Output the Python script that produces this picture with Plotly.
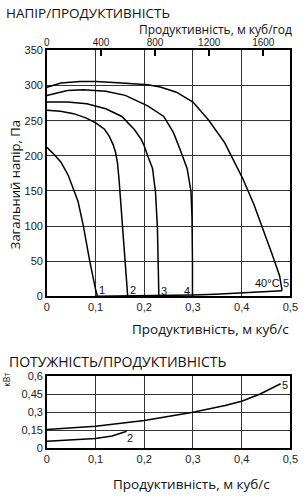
import plotly.graph_objects as go

W, H = 308, 500

# ---------- data: pressure vs flow (m3/s, Pa) ----------
c1_q = [0, 0.015, 0.029, 0.044, 0.056, 0.064, 0.075, 0.088, 0.1, 0.104]
c1_p = [212, 202, 191, 172, 150, 135, 100, 50, 10, 0]

c2_q = [0, 0.028, 0.055, 0.08, 0.101, 0.118, 0.128, 0.136, 0.141, 0.145, 0.148, 0.151, 0.154, 0.158, 0.161, 0.164, 0.166]
c2_p = [265, 263.5, 260, 254, 246.5, 238, 228, 216, 205, 190, 168, 140, 112, 85, 57, 30, 0]

c3_q = [0, 0.042, 0.082, 0.121, 0.154, 0.167, 0.18, 0.194, 0.2, 0.207, 0.213, 0.217, 0.22, 0.223, 0.227, 0.229, 0.23]
c3_p = [276.6, 276.6, 274, 267, 256, 247, 237, 223, 214, 200, 190, 182, 165, 149, 98, 40, 0]

c4_q = [0, 0.042, 0.075, 0.121, 0.161, 0.207, 0.24, 0.26, 0.273, 0.281, 0.288, 0.296, 0.298, 0.299, 0.299]
c4_p = [285.8, 292.8, 294, 292, 286, 271, 256, 233, 210, 195, 182, 149, 112, 50, 0]

c5_q = [0, 0.029, 0.068, 0.101, 0.154, 0.207, 0.233, 0.266, 0.3, 0.332, 0.365, 0.385, 0.402, 0.425, 0.445, 0.464, 0.478, 0.483]
c5_p = [297.5, 303.5, 305.8, 305.8, 303.5, 301, 298, 290.5, 276.6, 251, 218.7, 191, 168, 131, 94, 57, 29, 8]

sys_q = [0.1, 0.2, 0.3, 0.346, 0.4, 0.483]
sys_p = [0, 0.6, 1.9, 2.9, 4.5, 8]

# ---------- data: power vs flow (m3/s, kW) ----------
p5_q = [0, 0.1, 0.2, 0.3, 0.366, 0.4, 0.438, 0.48]
p5_w = [0.156, 0.183, 0.232, 0.30, 0.355, 0.39, 0.45, 0.535]

p2_q = [0, 0.1, 0.134, 0.164]
p2_w = [0.06, 0.082, 0.103, 0.142]

# ---------- tick labels ----------
q_ticks = [0, 0.1, 0.2, 0.3, 0.4, 0.5]
q_labels = ["0", "0,1", "0,2", "0,3", "0,4", "0,5"]
qh_ticks = [0, 400, 800, 1200, 1600]
qh_labels = ["0", "400", "800", "1200", "1600"]
p_ticks = [0, 50, 100, 150, 200, 250, 300, 350]
p_labels = ["0", "50", "100", "150", "200", "250", "300", "350"]
w_ticks = [0, 0.15, 0.3, 0.45, 0.6]
w_labels = ["0", "0,15", "0,3", "0,45", "0,6"]

TICKFONT = dict(family="Liberation Sans, Arial, sans-serif", size=11, color="#222")
TITLEFONT = "Open Sans, Noto Sans, sans-serif"
LINE = dict(color="black", width=1.5)

def px(x):
    return x / W

def py(y):
    return 1 - y / H

fig = go.Figure()

for q, p in [(c1_q, c1_p), (c2_q, c2_p), (c3_q, c3_p), (c4_q, c4_p), (c5_q, c5_p), (sys_q, sys_p)]:
    fig.add_trace(go.Scatter(x=q, y=p, mode="lines", line=LINE, xaxis="x", yaxis="y",
                             showlegend=False, hoverinfo="skip"))

# dummy trace for the top m3/h axis
fig.add_trace(go.Scatter(x=[0, 1800], y=[None, None], mode="lines", xaxis="x3", yaxis="y",
                         showlegend=False, hoverinfo="skip"))

for q, w in [(p5_q, p5_w), (p2_q, p2_w)]:
    fig.add_trace(go.Scatter(x=q, y=w, mode="lines", line=LINE, xaxis="x2", yaxis="y2",
                             showlegend=False, hoverinfo="skip"))

xdom = [px(45.5), px(298)]
grid = dict(showgrid=True, gridcolor="#333", gridwidth=1, zeroline=False,
            showline=True, linecolor="black", linewidth=1.5, mirror=True,
            ticks="", tickfont=TICKFONT)

fig.update_layout(
    width=W, height=H, margin=dict(l=0, r=0, t=0, b=0),
    paper_bgcolor="white", plot_bgcolor="white",
    xaxis=dict(domain=xdom, anchor="y", range=[0, 0.5], tickvals=q_ticks, ticktext=q_labels, **grid),
    yaxis=dict(domain=[py(297.5), py(45.5)], anchor="x", range=[0, 350], tickvals=p_ticks, ticktext=p_labels, **grid),
    xaxis3=dict(overlaying="x", side="top", anchor="y", range=[0, 1800], tickvals=qh_ticks, ticktext=qh_labels,
                showgrid=False, zeroline=False, showline=False, ticks="inside", ticklen=6, tickwidth=1.5,
                tickcolor="black", ticklabelstandoff=1,
                tickfont=dict(family="Liberation Sans, Arial, sans-serif", size=10, color="#222")),
    xaxis2=dict(domain=xdom, anchor="y2", range=[0, 0.5], tickvals=q_ticks, ticktext=q_labels, **grid),
    yaxis2=dict(domain=[py(453.3), py(379)], anchor="x2", range=[0, 0.6], tickvals=w_ticks, ticktext=w_labels, **grid),
)

ann = []
def text(t, x, y, size=13.5, xanchor="left", family=TITLEFONT, angle=0):
    ann.append(dict(text=t, x=px(x), y=py(y), xref="paper", yref="paper", showarrow=False,
                    xanchor=xanchor, yanchor="middle", textangle=angle, borderpad=0,
                    font=dict(family=family, size=size, color="#111")))

text("НАПІР/ПРОДУКТИВНІСТЬ", 2, 7.5, size=13.5)
text("Продуктивність, м куб/год", 301, 24, size=12, xanchor="right")
text("Продуктивність, м куб/с", 298, 331, size=13.5, xanchor="right")
text("Загальний напір, Па", 12, 183, size=13, xanchor="center", angle=-90)
text("ПОТУЖНІСТЬ/ПРОДУКТИВНІСТЬ", 5, 364.5, size=14)
text("Продуктивність, м куб/с", 278, 490, size=13.5, xanchor="right")
text("кВт", 4, 383, size=8.5, xanchor="center", angle=-90)

lab = "Liberation Sans, Arial, sans-serif"
text("1", 99, 291, size=11, family=lab)
text("2", 131, 291, size=11, family=lab)
text("3", 163, 292, size=11, family=lab)
text("4", 187, 292, size=11, family=lab)
text("40°C", 274, 284, size=11, family=lab, xanchor="center")
text("5", 289, 284, size=11, family=lab)
text("5", 288, 388, size=11, family=lab)
text("2", 128, 443, size=11, family=lab)

fig.update_layout(annotations=ann)
fig.write_html("out.html")
